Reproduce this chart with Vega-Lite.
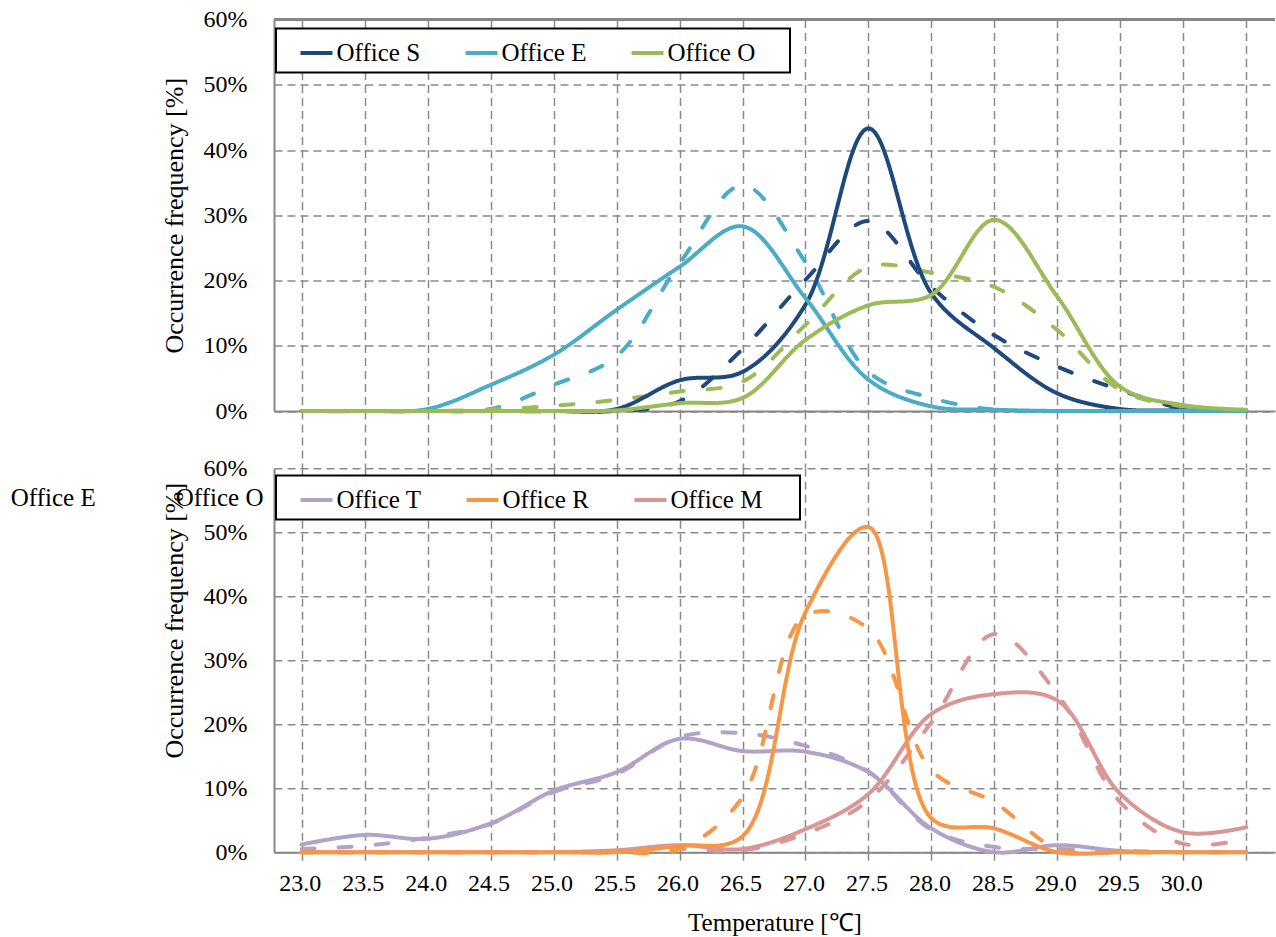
{
  "$schema": "https://vega.github.io/schema/vega-lite/v6.json",
  "background": "white",
  "padding": {"left": 10, "top": 7.5, "right": 0, "bottom": 0},
  "config": {
    "view": {"stroke": null},
    "font": "Liberation Serif",
    "axis": {
      "labelFont": "Liberation Serif",
      "labelFontSize": 24,
      "labelColor": "black",
      "titleFont": "Liberation Serif",
      "titleFontWeight": "normal",
      "titleColor": "black",
      "domainColor": "#868686",
      "domainWidth": 2,
      "gridColor": "#8a8a8a",
      "gridDash": [8, 5],
      "gridWidth": 1.5,
      "tickColor": "#8a8a8a",
      "tickDash": [8, 5],
      "tickWidth": 1.5,
      "labelFlush": false,
      "labelOverlap": false
    },
    "legend": {"strokeWidth": 2},
    "line": {"strokeWidth": 4, "interpolate": "catmull-rom", "strokeCap": "round", "strokeJoin": "round"},
    "text": {"font": "Liberation Serif", "fontSize": 25, "color": "black"}
  },
  "datasets": {
    "upper": [
      {"office": "Office S", "kind": "estimated", "t": 23.0, "f": 0},
      {"office": "Office S", "kind": "estimated", "t": 23.5, "f": 0},
      {"office": "Office S", "kind": "estimated", "t": 24.0, "f": 0},
      {"office": "Office S", "kind": "estimated", "t": 24.5, "f": 0},
      {"office": "Office S", "kind": "estimated", "t": 25.0, "f": 0},
      {"office": "Office S", "kind": "estimated", "t": 25.5, "f": 0},
      {"office": "Office S", "kind": "estimated", "t": 26.0, "f": 1.5},
      {"office": "Office S", "kind": "estimated", "t": 26.5, "f": 9.5},
      {"office": "Office S", "kind": "estimated", "t": 27.0, "f": 20.1},
      {"office": "Office S", "kind": "estimated", "t": 27.5, "f": 29.1},
      {"office": "Office S", "kind": "estimated", "t": 28.0, "f": 19.0},
      {"office": "Office S", "kind": "estimated", "t": 28.5, "f": 11.6},
      {"office": "Office S", "kind": "estimated", "t": 29.0, "f": 6.8},
      {"office": "Office S", "kind": "estimated", "t": 29.5, "f": 3.2},
      {"office": "Office S", "kind": "estimated", "t": 30.0, "f": 0.4},
      {"office": "Office S", "kind": "estimated", "t": 30.5, "f": 0},
      {"office": "Office E", "kind": "estimated", "t": 23.0, "f": 0},
      {"office": "Office E", "kind": "estimated", "t": 23.5, "f": 0},
      {"office": "Office E", "kind": "estimated", "t": 24.0, "f": 0},
      {"office": "Office E", "kind": "estimated", "t": 24.5, "f": 0.3},
      {"office": "Office E", "kind": "estimated", "t": 25.0, "f": 4.0},
      {"office": "Office E", "kind": "estimated", "t": 25.5, "f": 8.4},
      {"office": "Office E", "kind": "estimated", "t": 26.0, "f": 22.6},
      {"office": "Office E", "kind": "estimated", "t": 26.5, "f": 34.6},
      {"office": "Office E", "kind": "estimated", "t": 27.0, "f": 22.8},
      {"office": "Office E", "kind": "estimated", "t": 27.5, "f": 6.0},
      {"office": "Office E", "kind": "estimated", "t": 28.0, "f": 2.0},
      {"office": "Office E", "kind": "estimated", "t": 28.5, "f": 0.2},
      {"office": "Office E", "kind": "estimated", "t": 29.0, "f": 0},
      {"office": "Office E", "kind": "estimated", "t": 29.5, "f": 0},
      {"office": "Office E", "kind": "estimated", "t": 30.0, "f": 0},
      {"office": "Office E", "kind": "estimated", "t": 30.5, "f": 0},
      {"office": "Office O", "kind": "estimated", "t": 23.0, "f": 0},
      {"office": "Office O", "kind": "estimated", "t": 23.5, "f": 0},
      {"office": "Office O", "kind": "estimated", "t": 24.0, "f": 0},
      {"office": "Office O", "kind": "estimated", "t": 24.5, "f": 0.2},
      {"office": "Office O", "kind": "estimated", "t": 25.0, "f": 0.8},
      {"office": "Office O", "kind": "estimated", "t": 25.5, "f": 1.7},
      {"office": "Office O", "kind": "estimated", "t": 26.0, "f": 3.0},
      {"office": "Office O", "kind": "estimated", "t": 26.5, "f": 4.5},
      {"office": "Office O", "kind": "estimated", "t": 27.0, "f": 13.2},
      {"office": "Office O", "kind": "estimated", "t": 27.5, "f": 22.1},
      {"office": "Office O", "kind": "estimated", "t": 28.0, "f": 21.2},
      {"office": "Office O", "kind": "estimated", "t": 28.5, "f": 19.0},
      {"office": "Office O", "kind": "estimated", "t": 29.0, "f": 12.4},
      {"office": "Office O", "kind": "estimated", "t": 29.5, "f": 3.2},
      {"office": "Office O", "kind": "estimated", "t": 30.0, "f": 0.7},
      {"office": "Office O", "kind": "estimated", "t": 30.5, "f": 0.1},
      {"office": "Office S", "kind": "measured", "t": 23.0, "f": 0},
      {"office": "Office S", "kind": "measured", "t": 23.5, "f": 0},
      {"office": "Office S", "kind": "measured", "t": 24.0, "f": 0},
      {"office": "Office S", "kind": "measured", "t": 24.5, "f": 0},
      {"office": "Office S", "kind": "measured", "t": 25.0, "f": 0},
      {"office": "Office S", "kind": "measured", "t": 25.5, "f": 0.3},
      {"office": "Office S", "kind": "measured", "t": 26.0, "f": 4.7},
      {"office": "Office S", "kind": "measured", "t": 26.5, "f": 6.0},
      {"office": "Office S", "kind": "measured", "t": 27.0, "f": 16.3},
      {"office": "Office S", "kind": "measured", "t": 27.5, "f": 43.3},
      {"office": "Office S", "kind": "measured", "t": 28.0, "f": 18.0},
      {"office": "Office S", "kind": "measured", "t": 28.5, "f": 9.6},
      {"office": "Office S", "kind": "measured", "t": 29.0, "f": 2.7},
      {"office": "Office S", "kind": "measured", "t": 29.5, "f": 0.3},
      {"office": "Office S", "kind": "measured", "t": 30.0, "f": 0.1},
      {"office": "Office S", "kind": "measured", "t": 30.5, "f": 0},
      {"office": "Office E", "kind": "measured", "t": 23.0, "f": 0},
      {"office": "Office E", "kind": "measured", "t": 23.5, "f": 0},
      {"office": "Office E", "kind": "measured", "t": 24.0, "f": 0.3},
      {"office": "Office E", "kind": "measured", "t": 24.5, "f": 4.0},
      {"office": "Office E", "kind": "measured", "t": 25.0, "f": 8.6},
      {"office": "Office E", "kind": "measured", "t": 25.5, "f": 15.5},
      {"office": "Office E", "kind": "measured", "t": 26.0, "f": 22.1},
      {"office": "Office E", "kind": "measured", "t": 26.5, "f": 28.3},
      {"office": "Office E", "kind": "measured", "t": 27.0, "f": 17.3},
      {"office": "Office E", "kind": "measured", "t": 27.5, "f": 4.8},
      {"office": "Office E", "kind": "measured", "t": 28.0, "f": 0.7},
      {"office": "Office E", "kind": "measured", "t": 28.5, "f": 0.2},
      {"office": "Office E", "kind": "measured", "t": 29.0, "f": 0},
      {"office": "Office E", "kind": "measured", "t": 29.5, "f": 0},
      {"office": "Office E", "kind": "measured", "t": 30.0, "f": 0},
      {"office": "Office E", "kind": "measured", "t": 30.5, "f": 0},
      {"office": "Office O", "kind": "measured", "t": 23.0, "f": 0},
      {"office": "Office O", "kind": "measured", "t": 23.5, "f": 0},
      {"office": "Office O", "kind": "measured", "t": 24.0, "f": 0},
      {"office": "Office O", "kind": "measured", "t": 24.5, "f": 0},
      {"office": "Office O", "kind": "measured", "t": 25.0, "f": 0},
      {"office": "Office O", "kind": "measured", "t": 25.5, "f": 0.1},
      {"office": "Office O", "kind": "measured", "t": 26.0, "f": 1.2},
      {"office": "Office O", "kind": "measured", "t": 26.5, "f": 2.0},
      {"office": "Office O", "kind": "measured", "t": 27.0, "f": 10.9},
      {"office": "Office O", "kind": "measured", "t": 27.5, "f": 16.2},
      {"office": "Office O", "kind": "measured", "t": 28.0, "f": 17.8},
      {"office": "Office O", "kind": "measured", "t": 28.5, "f": 29.3},
      {"office": "Office O", "kind": "measured", "t": 29.0, "f": 17.5},
      {"office": "Office O", "kind": "measured", "t": 29.5, "f": 3.7},
      {"office": "Office O", "kind": "measured", "t": 30.0, "f": 0.9},
      {"office": "Office O", "kind": "measured", "t": 30.5, "f": 0.2}
    ],
    "lower": [
      {"office": "Office T", "kind": "estimated", "t": 23.0, "f": 0.5},
      {"office": "Office T", "kind": "estimated", "t": 23.5, "f": 1.0},
      {"office": "Office T", "kind": "estimated", "t": 24.0, "f": 2.3},
      {"office": "Office T", "kind": "estimated", "t": 24.5, "f": 4.4},
      {"office": "Office T", "kind": "estimated", "t": 25.0, "f": 9.4},
      {"office": "Office T", "kind": "estimated", "t": 25.5, "f": 12.2},
      {"office": "Office T", "kind": "estimated", "t": 26.0, "f": 18.0},
      {"office": "Office T", "kind": "estimated", "t": 26.5, "f": 18.6},
      {"office": "Office T", "kind": "estimated", "t": 27.0, "f": 16.6},
      {"office": "Office T", "kind": "estimated", "t": 27.5, "f": 12.6},
      {"office": "Office T", "kind": "estimated", "t": 28.0, "f": 3.5},
      {"office": "Office T", "kind": "estimated", "t": 28.5, "f": 0.8},
      {"office": "Office T", "kind": "estimated", "t": 29.0, "f": 0.5},
      {"office": "Office T", "kind": "estimated", "t": 29.5, "f": 0.2},
      {"office": "Office T", "kind": "estimated", "t": 30.0, "f": 0},
      {"office": "Office T", "kind": "estimated", "t": 30.5, "f": 0},
      {"office": "Office M", "kind": "estimated", "t": 23.0, "f": 0},
      {"office": "Office M", "kind": "estimated", "t": 23.5, "f": 0},
      {"office": "Office M", "kind": "estimated", "t": 24.0, "f": 0},
      {"office": "Office M", "kind": "estimated", "t": 24.5, "f": 0},
      {"office": "Office M", "kind": "estimated", "t": 25.0, "f": 0},
      {"office": "Office M", "kind": "estimated", "t": 25.5, "f": 0.2},
      {"office": "Office M", "kind": "estimated", "t": 26.0, "f": 0.5},
      {"office": "Office M", "kind": "estimated", "t": 26.5, "f": 0.3},
      {"office": "Office M", "kind": "estimated", "t": 27.0, "f": 2.9},
      {"office": "Office M", "kind": "estimated", "t": 27.5, "f": 8.1},
      {"office": "Office M", "kind": "estimated", "t": 28.0, "f": 20.3},
      {"office": "Office M", "kind": "estimated", "t": 28.5, "f": 34.1},
      {"office": "Office M", "kind": "estimated", "t": 29.0, "f": 24.7},
      {"office": "Office M", "kind": "estimated", "t": 29.5, "f": 7.8},
      {"office": "Office M", "kind": "estimated", "t": 30.0, "f": 1.3},
      {"office": "Office M", "kind": "estimated", "t": 30.5, "f": 2.1},
      {"office": "Office R", "kind": "estimated", "t": 23.0, "f": 0},
      {"office": "Office R", "kind": "estimated", "t": 23.5, "f": 0},
      {"office": "Office R", "kind": "estimated", "t": 24.0, "f": 0},
      {"office": "Office R", "kind": "estimated", "t": 24.5, "f": 0},
      {"office": "Office R", "kind": "estimated", "t": 25.0, "f": 0},
      {"office": "Office R", "kind": "estimated", "t": 25.5, "f": 0},
      {"office": "Office R", "kind": "estimated", "t": 26.0, "f": 0.5},
      {"office": "Office R", "kind": "estimated", "t": 26.5, "f": 8.6},
      {"office": "Office R", "kind": "estimated", "t": 27.0, "f": 37.0},
      {"office": "Office R", "kind": "estimated", "t": 27.5, "f": 34.9},
      {"office": "Office R", "kind": "estimated", "t": 28.0, "f": 12.8},
      {"office": "Office R", "kind": "estimated", "t": 28.5, "f": 7.8},
      {"office": "Office R", "kind": "estimated", "t": 29.0, "f": 0.5},
      {"office": "Office R", "kind": "estimated", "t": 29.5, "f": 0},
      {"office": "Office R", "kind": "estimated", "t": 30.0, "f": 0},
      {"office": "Office R", "kind": "estimated", "t": 30.5, "f": 0},
      {"office": "Office T", "kind": "measured", "t": 23.0, "f": 1.2},
      {"office": "Office T", "kind": "measured", "t": 23.5, "f": 2.7},
      {"office": "Office T", "kind": "measured", "t": 24.0, "f": 2.1},
      {"office": "Office T", "kind": "measured", "t": 24.5, "f": 4.5},
      {"office": "Office T", "kind": "measured", "t": 25.0, "f": 9.6},
      {"office": "Office T", "kind": "measured", "t": 25.5, "f": 12.5},
      {"office": "Office T", "kind": "measured", "t": 26.0, "f": 17.7},
      {"office": "Office T", "kind": "measured", "t": 26.5, "f": 15.8},
      {"office": "Office T", "kind": "measured", "t": 27.0, "f": 15.7},
      {"office": "Office T", "kind": "measured", "t": 27.5, "f": 12.5},
      {"office": "Office T", "kind": "measured", "t": 28.0, "f": 3.7},
      {"office": "Office T", "kind": "measured", "t": 28.5, "f": 0},
      {"office": "Office T", "kind": "measured", "t": 29.0, "f": 1.1},
      {"office": "Office T", "kind": "measured", "t": 29.5, "f": 0.2},
      {"office": "Office T", "kind": "measured", "t": 30.0, "f": 0},
      {"office": "Office T", "kind": "measured", "t": 30.5, "f": 0},
      {"office": "Office M", "kind": "measured", "t": 23.0, "f": 0},
      {"office": "Office M", "kind": "measured", "t": 23.5, "f": 0},
      {"office": "Office M", "kind": "measured", "t": 24.0, "f": 0},
      {"office": "Office M", "kind": "measured", "t": 24.5, "f": 0},
      {"office": "Office M", "kind": "measured", "t": 25.0, "f": 0},
      {"office": "Office M", "kind": "measured", "t": 25.5, "f": 0.3},
      {"office": "Office M", "kind": "measured", "t": 26.0, "f": 1.1},
      {"office": "Office M", "kind": "measured", "t": 26.5, "f": 0.5},
      {"office": "Office M", "kind": "measured", "t": 27.0, "f": 3.6},
      {"office": "Office M", "kind": "measured", "t": 27.5, "f": 9.1},
      {"office": "Office M", "kind": "measured", "t": 28.0, "f": 21.6},
      {"office": "Office M", "kind": "measured", "t": 28.5, "f": 24.7},
      {"office": "Office M", "kind": "measured", "t": 29.0, "f": 23.7},
      {"office": "Office M", "kind": "measured", "t": 29.5, "f": 9.1},
      {"office": "Office M", "kind": "measured", "t": 30.0, "f": 3.1},
      {"office": "Office M", "kind": "measured", "t": 30.5, "f": 3.9},
      {"office": "Office R", "kind": "measured", "t": 23.0, "f": 0},
      {"office": "Office R", "kind": "measured", "t": 23.5, "f": 0},
      {"office": "Office R", "kind": "measured", "t": 24.0, "f": 0},
      {"office": "Office R", "kind": "measured", "t": 24.5, "f": 0},
      {"office": "Office R", "kind": "measured", "t": 25.0, "f": 0},
      {"office": "Office R", "kind": "measured", "t": 25.5, "f": 0},
      {"office": "Office R", "kind": "measured", "t": 26.0, "f": 1.0},
      {"office": "Office R", "kind": "measured", "t": 26.5, "f": 2.5},
      {"office": "Office R", "kind": "measured", "t": 27.0, "f": 37.5},
      {"office": "Office R", "kind": "measured", "t": 27.5, "f": 50.8},
      {"office": "Office R", "kind": "measured", "t": 28.0, "f": 5.3},
      {"office": "Office R", "kind": "measured", "t": 28.5, "f": 3.7},
      {"office": "Office R", "kind": "measured", "t": 29.0, "f": 0},
      {"office": "Office R", "kind": "measured", "t": 29.5, "f": 0},
      {"office": "Office R", "kind": "measured", "t": 30.0, "f": 0},
      {"office": "Office R", "kind": "measured", "t": 30.5, "f": 0}
    ],
    "notes": [
      {"label": "Office E", "t": 20.69, "f": 55.3},
      {"label": "Office O", "t": 22.0, "f": 55.3}
    ]
  },
  "bounds": "flush",
  "spacing": 56.7,
  "resolve": {
    "scale": {"x": "independent", "y": "independent", "color": "independent"},
    "axis": {"x": "independent", "y": "independent"},
    "legend": {"color": "independent"}
  },
  "vconcat": [
    {
      "width": 1001,
      "height": 391.5,
      "data": {"name": "upper"},
      "layer": [
        {
          "mark": {"type": "line"},
          "encoding": {
            "x": {"field": "t", "type": "quantitative", "title": null,
              "scale": {"domain": [22.78, 30.728], "nice": false, "zero": false},
              "axis": {"values": [23, 23.5, 24, 24.5, 25, 25.5, 26, 26.5, 27, 27.5, 28, 28.5, 29, 29.5, 30, 30.5],
                "grid": true, "labels": false, "ticks": true, "tickSize": 56.7}},
            "y": {"field": "f", "type": "quantitative", "title": "Occurrence frequency [%]",
              "scale": {"domain": [0, 60], "nice": false},
              "axis": {"values": [0, 10, 20, 30, 40, 50, 60], "labelExpr": "datum.value + '%'", "grid": true, "ticks": false, "tickSize": 0,
                "labelPadding": 27, "titleFontSize": 26, "titlePadding": 16}},
            "color": {"field": "office", "type": "nominal",
              "scale": {"domain": ["Office S", "Office E", "Office O"], "range": ["#1F497D", "#4BACC6", "#9BBB59"]},
              "legend": {"title": " ", "titleOrient": "right", "titlePadding": 28, "titleFontSize": 25,
                "orient": "none", "legendX": 2, "legendY": 9, "direction": "horizontal",
                "symbolType": "stroke", "symbolSize": 1024, "symbolStrokeWidth": 3,
                "labelFont": "Liberation Serif", "labelFontSize": 25, "labelColor": "black",
                "padding": 6.5, "strokeColor": "black", "fillColor": "white",
                "columnPadding": 27, "labelOffset": 2, "symbolOffset": 16}},
            "strokeDash": {"field": "kind", "type": "nominal",
              "scale": {"domain": ["measured", "estimated"], "range": [[1, 0], [13, 24]]},
              "legend": null}
          }
        },
        {
          "mark": {"type": "rule", "color": "#868686", "strokeWidth": 2},
          "encoding": {"y": {"datum": 60, "type": "quantitative"}}
        }
      ]
    },
    {
      "width": 1001,
      "height": 384,
      "layer": [
        {
          "data": {"name": "lower"},
          "mark": {"type": "line"},
          "encoding": {
            "x": {"field": "t", "type": "quantitative", "title": "Temperature [℃]",
              "scale": {"domain": [22.78, 30.728], "nice": false, "zero": false},
              "axis": {"values": [23, 23.5, 24, 24.5, 25, 25.5, 26, 26.5, 27, 27.5, 28, 28.5, 29, 29.5, 30, 30.5],
                "grid": true, "ticks": true, "tickSize": 8,
                "labelExpr": "datum.value > 30.25 ? '' : format(datum.value, '.1f')",
                "labelPadding": 11, "labelOffset": -2, "titleFontSize": 25, "titlePadding": 15}},
            "y": {"field": "f", "type": "quantitative", "title": "Occurrence frequency [%]",
              "scale": {"domain": [0, 60], "nice": false},
              "axis": {"values": [0, 10, 20, 30, 40, 50, 60], "labelExpr": "datum.value + '%'", "grid": true, "ticks": false, "tickSize": 0,
                "labelPadding": 27, "titleFontSize": 26, "titlePadding": 16, "titleY": 152}},
            "color": {"field": "office", "type": "nominal",
              "scale": {"domain": ["Office T", "Office R", "Office M"], "range": ["#B3A2C7", "#F79646", "#D99694"]},
              "legend": {"title": " ", "titleOrient": "right", "titlePadding": 31, "titleFontSize": 25,
                "orient": "none", "legendX": 2, "legendY": 7.3, "direction": "horizontal",
                "symbolType": "stroke", "symbolSize": 1024, "symbolStrokeWidth": 3,
                "labelFont": "Liberation Serif", "labelFontSize": 25, "labelColor": "black",
                "padding": 6.5, "strokeColor": "black", "fillColor": "white",
                "columnPadding": 27, "labelOffset": 2, "symbolOffset": 16}},
            "strokeDash": {"field": "kind", "type": "nominal",
              "scale": {"domain": ["measured", "estimated"], "range": [[1, 0], [13, 24]]},
              "legend": null}
          }
        },
        {
          "mark": {"type": "rule", "color": "#868686", "strokeWidth": 2},
          "encoding": {"y": {"datum": 60, "type": "quantitative"}}
        },
        {
          "data": {"name": "notes"},
          "mark": {"type": "text", "align": "left", "baseline": "middle"},
          "encoding": {
            "x": {"field": "t", "type": "quantitative", "title": "Temperature [℃]"},
            "y": {"field": "f", "type": "quantitative", "title": "Occurrence frequency [%]"},
            "text": {"field": "label", "type": "nominal"}
          }
        }
      ]
    }
  ]
}
